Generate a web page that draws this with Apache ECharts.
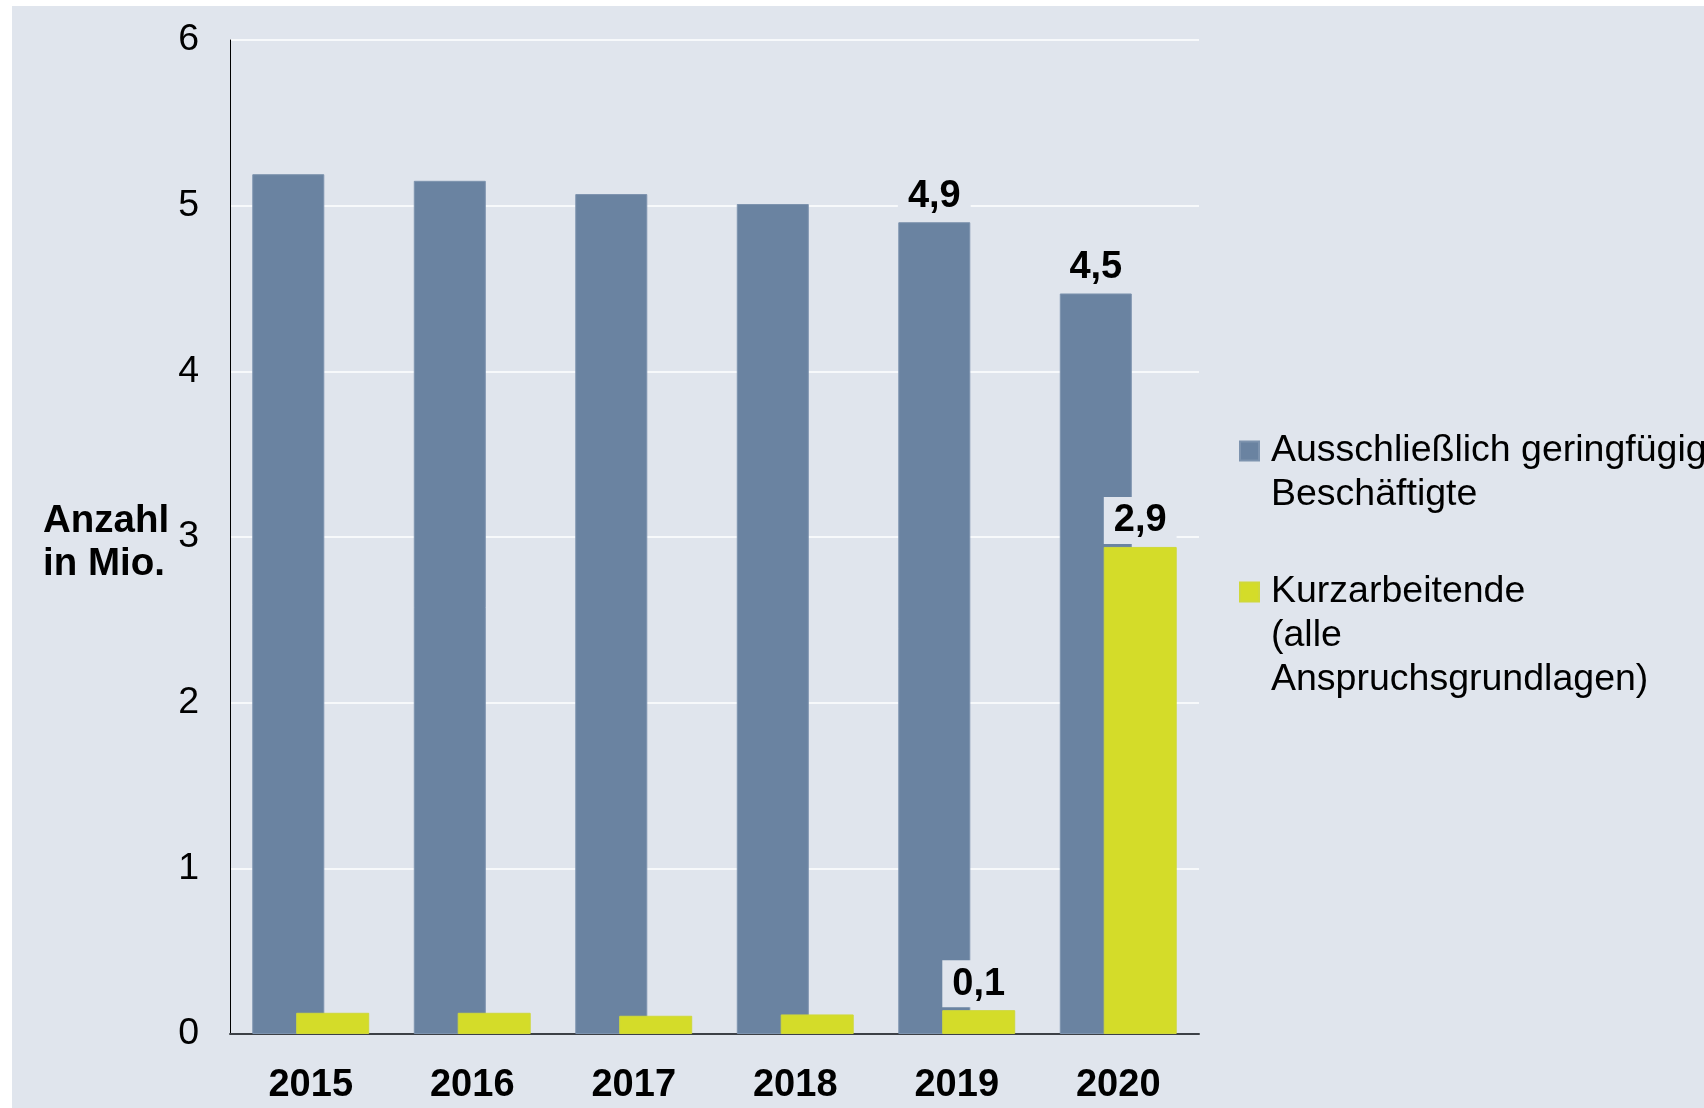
<!DOCTYPE html>
<html>
<head>
<meta charset="utf-8">
<script src="https://cdn.jsdelivr.net/npm/echarts@6/dist/echarts.min.js"></script>
<style>
  html, body { margin: 0; padding: 0; background: #ffffff; }
  #chart { position: absolute; left: 12px; top: 6px; width: 1692px; height: 1102px; }
</style>
</head>
<body>
<div id="chart"></div>
<script>
// Jahre und Werte (in Mio.)
var years = ['2015', '2016', '2017', '2018', '2019', '2020'];
var minijobs = [5.19, 5.15, 5.07, 5.01, 4.90, 4.47];
var kurzarbeit = [0.128, 0.128, 0.11, 0.118, 0.144, 2.94];
var labelYears = ['2019', '2020'];
var seriesNames = ['Ausschließlich geringfügig\nBeschäftigte', 'Kurzarbeitende\n(alle\nAnspruchsgrundlagen)'];
var yTicks = [0, 1, 2, 3, 4, 5, 6];

var bg = '#e0e5ed';
var font = 'Liberation Sans';

function withLabels(values) {
  return values.map(function (v, i) {
    return {
      value: v,
      label: { show: labelYears.indexOf(years[i]) >= 0 }
    };
  });
}

// legend text is centered on the icon, so pad with empty lines on top
// to keep the first line level with the square
function legendText(name) {
  var n = name.split('\n').length;
  return new Array(n).join('\n') + name;
}

var labelStyle = {
  position: 'top',
  distance: 3,
  fontFamily: font,
  fontSize: 38,
  fontWeight: 'bold',
  color: '#000',
  lineHeight: 38,
  backgroundColor: bg,
  padding: [5, 10, 4, 10],
  formatter: function (p) { return p.value.toFixed(1).replace('.', ','); }
};

var legendBase = {
  orient: 'vertical',
  left: 1227,
  padding: 0,
  icon: 'rect',
  itemWidth: 19,
  itemHeight: 19,
  selectedMode: false,
  formatter: legendText,
  textStyle: { fontFamily: font, fontSize: 37.5, color: '#000', lineHeight: 44, padding: [0, 0, 0, 7] }
};

var chart = echarts.init(document.getElementById('chart'), null, { renderer: 'canvas' });

var option = {
  backgroundColor: bg,
  animation: false,
  color: ['#6a83a1', '#d4dc29'],
  grid: { left: 218, right: 505, top: 34, bottom: 74, containLabel: false },
  legend: [
    Object.assign({}, legendBase, { data: [seriesNames[0]], top: 379 }),
    Object.assign({}, legendBase, { data: [seriesNames[1]], top: 476 })
  ],
  xAxis: {
    type: 'category',
    data: years,
    axisLine: { show: true, lineStyle: { color: '#3c4046', width: 2 } },
    axisTick: { show: false },
    axisLabel: { margin: 33, fontFamily: font, fontSize: 38, fontWeight: 'bold', color: '#000', lineHeight: 38 }
  },
  yAxis: {
    type: 'value',
    min: yTicks[0],
    max: yTicks[yTicks.length - 1],
    interval: 1,
    name: '{gap|}\nAnzahl\nin Mio.',
    nameLocation: 'middle',
    nameRotate: 0,
    nameGap: 187,
    nameTextStyle: {
      fontFamily: font, fontSize: 38.5, fontWeight: 'bold', color: '#000', align: 'left', lineHeight: 43,
      rich: { gap: { height: 11, lineHeight: 11, fontSize: 10 } }
    },
    axisLine: { show: true, lineStyle: { color: '#000', width: 1 } },
    axisTick: { show: false },
    axisLabel: { margin: 31, fontFamily: font, fontSize: 37.5, color: '#000' },
    splitLine: { show: true, lineStyle: { color: '#ffffff', width: 1.5 } }
  },
  series: [
    {
      name: seriesNames[0],
      type: 'bar',
      barWidth: 72,
      barGap: '-39%',
      data: withLabels(minijobs),
      itemStyle: { borderColor: '#7d93ae', borderWidth: 1 },
      label: labelStyle
    },
    {
      name: seriesNames[1],
      type: 'bar',
      barWidth: 73,
      data: withLabels(kurzarbeit),
      itemStyle: { borderColor: '#cfd83a', borderWidth: 1 },
      label: labelStyle
    }
  ]
};

chart.setOption(option);
</script>
</body>
</html>
